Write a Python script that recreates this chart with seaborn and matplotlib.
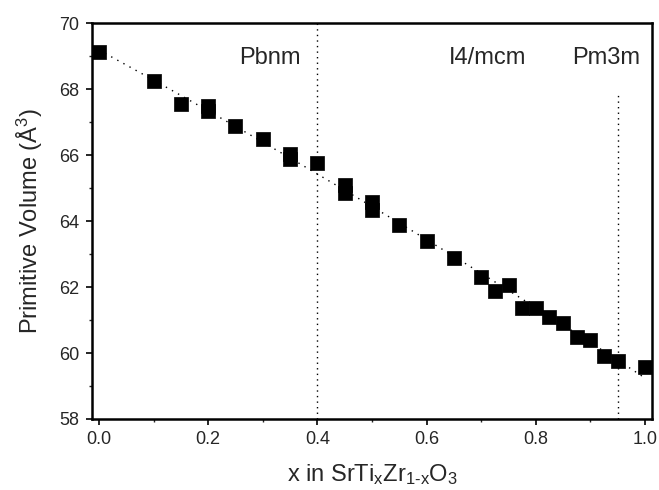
import matplotlib
matplotlib.use("Agg")
import matplotlib.pyplot as plt
import seaborn as sns
import pandas as pd
from matplotlib.ticker import MultipleLocator

x_vals = [0.0, 0.1, 0.15, 0.2, 0.2, 0.25, 0.3, 0.35, 0.35, 0.4, 0.45, 0.45,
          0.5, 0.5, 0.55, 0.6, 0.65, 0.7, 0.725, 0.75, 0.775, 0.8, 0.825,
          0.85, 0.875, 0.9, 0.925, 0.95, 1.0]
volume = [69.12, 68.24, 67.55, 67.48, 67.33, 66.88, 66.48, 66.03, 65.88, 65.76,
          65.09, 64.85, 64.58, 64.33, 63.88, 63.40, 62.88, 62.31, 61.88, 62.06,
          61.37, 61.37, 61.10, 60.91, 60.49, 60.39, 59.91, 59.76, 59.58]
phase_labels = ["Pbnm", "I4/mcm", "Pm3m"]
phase_label_x = [0.313, 0.712, 0.928]
boundaries = [0.4, 0.95]
x_ticks = [0.0, 0.2, 0.4, 0.6, 0.8, 1.0]
y_ticks = [58, 60, 62, 64, 66, 68, 70]

df = pd.DataFrame({"x": x_vals, "V": volume})

sns.set_style("ticks")
plt.rcParams["font.family"] = ["Liberation Sans", "DejaVu Sans"]
plt.rcParams["mathtext.fontset"] = "custom"
plt.rcParams["mathtext.rm"] = "Liberation Sans"
plt.rcParams["mathtext.it"] = "Liberation Sans"

fig = plt.figure(figsize=(6.59, 4.90), dpi=100)
ax = fig.add_axes([0.1396, 0.1449, 0.8498, 0.8081])
ax.set_xlim(-0.0128, 1.0128)
ax.set_ylim(58, 70)

sns.regplot(data=df, x="x", y="V", order=2, scatter=False, ci=None, ax=ax,
            truncate=True,
            line_kws=dict(color="black", lw=1.0, ls=(0, (1, 4))))
sns.scatterplot(data=df, x="x", y="V", marker="s", s=95, color="black",
                edgecolor="black", linewidth=0.5, ax=ax, zorder=3)

ax.axvline(boundaries[0], ymin=0, ymax=1, color="black", lw=1.0, ls=(0, (1, 3)))
ax.axvline(boundaries[1], ymin=0, ymax=(67.9 - 58) / 12, color="black", lw=1.0, ls=(0, (1, 3)))

for lab, lx in zip(phase_labels, phase_label_x):
    ax.text(lx, 68.94, lab, ha="center", va="center", fontsize=17)

ax.set_xlim(-0.0128, 1.0128)
ax.set_ylim(58, 70)
ax.set_xticks(x_ticks)
ax.set_xticklabels([f"{t:.1f}" for t in x_ticks])
ax.set_yticks(y_ticks)
ax.xaxis.set_minor_locator(MultipleLocator(0.1))
ax.yaxis.set_minor_locator(MultipleLocator(1))
ax.tick_params(axis="both", which="major", direction="out", length=4, width=1.4,
               labelsize=13, pad=5)
ax.tick_params(axis="both", which="minor", direction="out", length=2.5, width=1.0)
for s in ax.spines.values():
    s.set_linewidth(1.8)
    s.set_color("black")

ax.set_xlabel(r"x in SrTi$_{x}$Zr$_{1\text{-}x}$O$_{3}$", fontsize=17, labelpad=10)
ax.set_ylabel(r"Primitive Volume (Å$^{3}$)", fontsize=17, labelpad=10)

fig.savefig("out.png", dpi=100)
